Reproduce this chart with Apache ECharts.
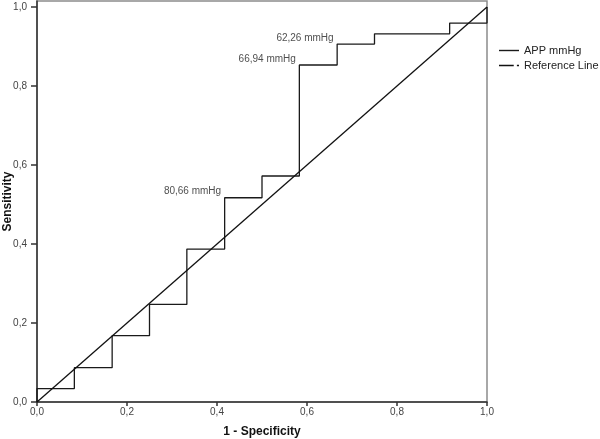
<!DOCTYPE html>
<html>
<head>
<meta charset="utf-8">
<script src="https://cdn.jsdelivr.net/npm/echarts@6/dist/echarts.min.js"></script>
<style>
  html, body { margin: 0; padding: 0; background: #fff; }
  #main { width: 600px; height: 439px; }
</style>
</head>
<body>
<div id="main"></div>
<script>
// ROC points (1 - specificity, sensitivity)
const fpr = [0, 0, 0.083, 0.167, 0.25, 0.333, 0.417, 0.5, 0.583, 0.667, 0.75, 0.917, 1.0]
const sens = [0, 0.034, 0.087, 0.168, 0.247, 0.387, 0.517, 0.572, 0.853, 0.906, 0.932, 0.959, 1.0]
// cut-off annotations
const cutX = [0.417, 0.583, 0.667]
const cutY = [0.517, 0.853, 0.906]
const cutText = ['80,66 mmHg', '66,94 mmHg', '62,26 mmHg']
const refLine = [[0, 0], [1, 1]]
const ticks = [0, 0.2, 0.4, 0.6, 0.8, 1.0]

const font = "'Liberation Sans', Arial, sans-serif"
const fmt = v => {
  const hit = ticks.find(t => Math.abs(t - v) < 1e-6)
  return hit === undefined ? '' : hit.toFixed(1).replace('.', ',')
}

let myChart = echarts.init(document.getElementById('main'))
let option = {
  backgroundColor: '#fff',
  animation: false,
  textStyle: { fontFamily: font },
  grid: {
    left: 37,
    right: 113,
    top: 1,
    bottom: 37,
    containLabel: false,
    outerBoundsMode: 'none',
    show: true,
    borderColor: '#8c8c8c',
    borderWidth: 1.5,
  },
  legend: {
    orient: 'vertical',
    left: 499,
    top: 44,
    padding: 0,
    itemWidth: 20,
    itemHeight: 2,
    itemGap: 2,
    textStyle: { fontSize: 11, color: '#222', lineHeight: 13, fontFamily: font },
    data: [
      { name: 'APP mmHg', icon: 'path://M0,0H20V1.4H0Z' },
      { name: 'Reference Line', icon: 'path://M0,0H14V1.4H0Z M17,0H19V1.4H17Z' },
    ],
  },
  xAxis: {
    type: 'value',
    min: 0,
    max: 1,
    interval: 0.2,
    name: '1 - Specificity',
    nameLocation: 'middle',
    nameGap: 24,
    nameMoveOverlap: false,
    nameTextStyle: { fontSize: 12, fontWeight: 'bold', color: '#111', fontFamily: font },
    axisLine: { show: true, lineStyle: { color: '#333', width: 1.5 } },
    axisTick: { show: true, length: 4, lineStyle: { color: '#333', width: 1.5 } },
    axisLabel: { fontSize: 10, color: '#444', margin: 5, formatter: fmt },
    splitLine: { show: false },
  },
  yAxis: {
    type: 'value',
    min: 0,
    max: 1.015,
    interval: 0.2,
    name: 'Sensitivity',
    nameLocation: 'middle',
    nameGap: 23,
    nameMoveOverlap: false,
    nameTextStyle: { fontSize: 12, fontWeight: 'bold', color: '#111', fontFamily: font },
    axisLine: { show: true, lineStyle: { color: '#333', width: 1.5 } },
    axisTick: { show: true, length: 6, lineStyle: { color: '#333', width: 1.5 } },
    axisLabel: { fontSize: 10, color: '#444', margin: 10, formatter: fmt, showMaxLabel: false },
    splitLine: { show: false },
  },
  series: [
    {
      name: 'APP mmHg',
      type: 'line',
      step: 'end',
      symbol: 'none',
      lineStyle: { color: '#1a1a1a', width: 1.3 },
      itemStyle: { color: '#1a1a1a' },
      data: fpr.map((x, i) => [x, sens[i]]),
    },
    {
      name: 'Reference Line',
      type: 'line',
      symbol: 'none',
      lineStyle: { color: '#111', width: 1.3 },
      itemStyle: { color: '#111' },
      data: refLine,
    },
    {
      name: 'cutoffs',
      type: 'scatter',
      symbolSize: 1,
      itemStyle: { color: 'rgba(0,0,0,0)' },
      label: {
        show: true,
        position: 'left',
        distance: 3,
        offset: [0, -6],
        fontSize: 10,
        color: '#222',
        fontFamily: font,
        formatter: p => cutText[p.dataIndex],
      },
      data: cutX.map((x, i) => [x, cutY[i]]),
    },
  ],
}
myChart.setOption(option)
</script>
</body>
</html>
